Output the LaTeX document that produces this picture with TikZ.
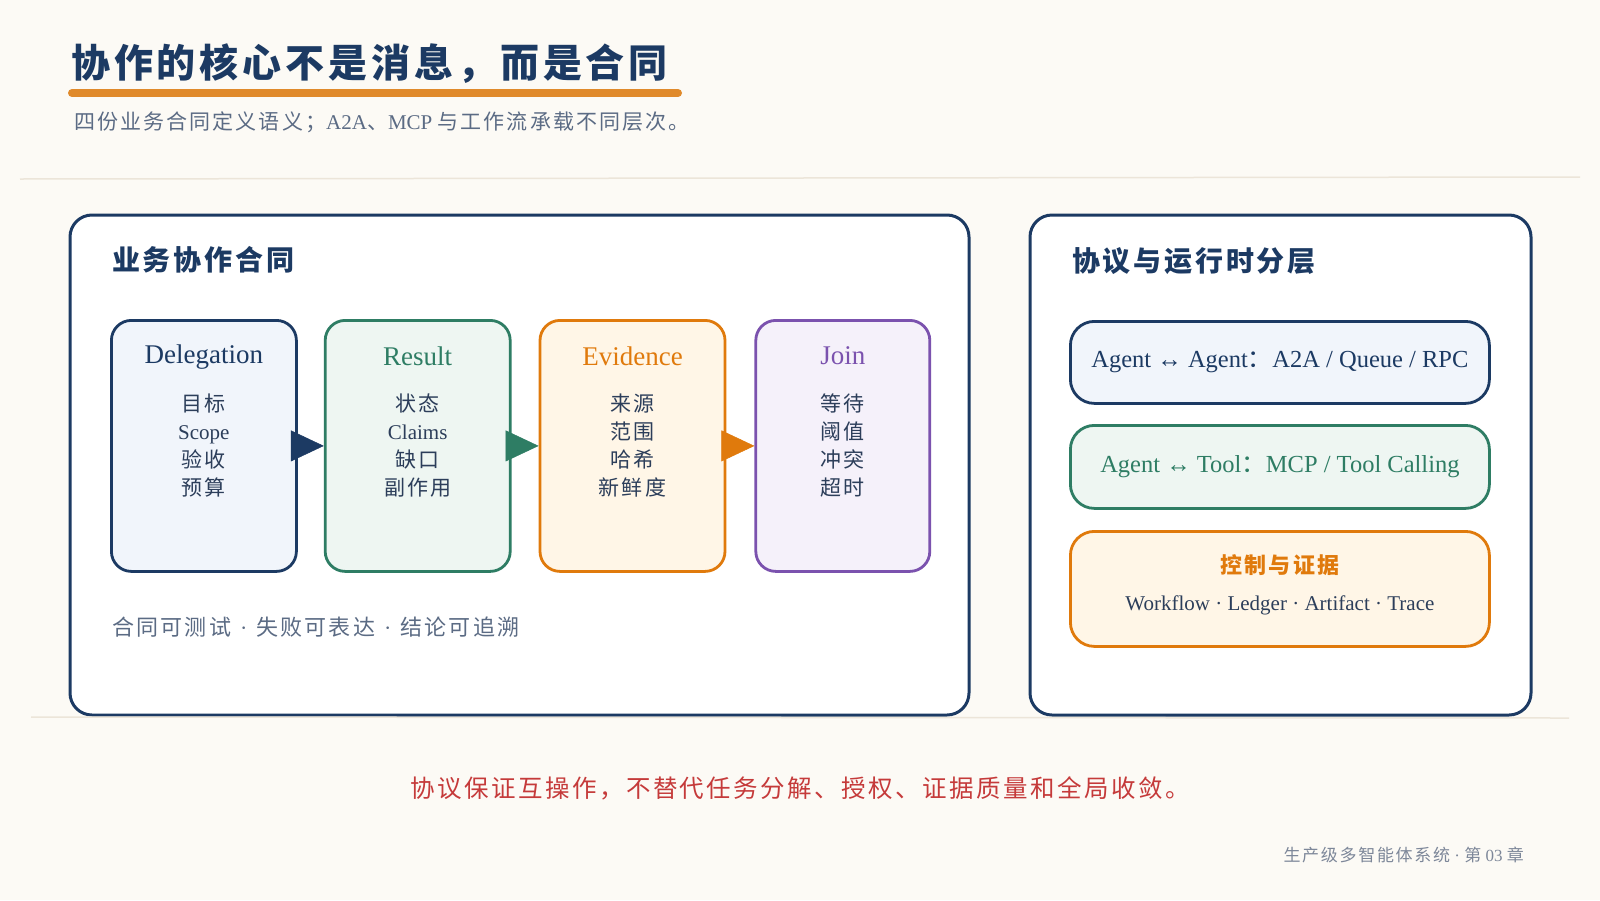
\documentclass[tikz,border=0pt]{standalone}
\usepackage{fontspec}
\setmainfont{Liberation Serif}
\newfontfamily\cjk{Noto Sans CJK SC}[LetterSpace=10]
\usepackage{xcolor}
\usetikzlibrary{positioning,calc,arrows.meta}

\definecolor{paper}{HTML}{FCFAF5}
\definecolor{navy}{HTML}{1C3A63}
\definecolor{navyfill}{HTML}{F1F5FB}
\definecolor{greenline}{HTML}{2E7D64}
\definecolor{greenfill}{HTML}{EEF6F2}
\definecolor{orangeline}{HTML}{E07A0C}
\definecolor{orangefill}{HTML}{FFF6E7}
\definecolor{purpleline}{HTML}{7B52AE}
\definecolor{purplefill}{HTML}{F5F1FA}
\definecolor{ink}{HTML}{2C3E5A}
\definecolor{mutedblue}{HTML}{5B6B84}
\definecolor{underline}{HTML}{E08A2B}
\definecolor{rule}{HTML}{ECE5D9}
\definecolor{alertred}{HTML}{C53A3A}
\definecolor{footgray}{HTML}{7D8799}

\newcommand{\zh}[1]{{\cjk #1}}

\begin{document}
\begin{tikzpicture}[x=1pt,y=-1pt,
    every node/.style={inner sep=0pt},
    panel/.style={draw=navy,line width=3pt,rounded corners=22pt,fill=white},
    card/.style={draw,line width=2.8pt,rounded corners=20pt,minimum width=185pt,minimum height=251pt},
    layer/.style={draw,line width=2.8pt,rounded corners=24pt,minimum width=419pt,anchor=north west},
    cardtitle/.style={font=\fontsize{27}{30}\selectfont},
    cardlist/.style={align=center,text=ink,font=\fontsize{21}{28}\selectfont},
    flow/.style={-{Triangle[length=33pt,width=31pt]},line width=0.5pt}]

\useasboundingbox (0,0) rectangle (1600,900);
\fill[paper] (0,0) rectangle (1600,900);

% header
\node[anchor=west,text=navy,font=\fontsize{39}{44}\selectfont] (title) at (71,64) {\cjk\bfseries 协作的核心不是消息，而是合同};
\draw[underline,line width=8pt,line cap=round] (72,93) -- (678,93);
\node[anchor=west,text=mutedblue,font=\fontsize{21}{25}\selectfont] (subtitle) at (74,122) {\zh{四份业务合同定义语义；}A2A\zh{、}MCP \zh{与工作流承载不同层次。}};
\draw[rule,line width=1.5pt] (20,179) -- (1580,177);

% panels
\draw[panel] (70,215) rectangle (969,715);
\draw[panel] (1030,215) rectangle (1531,715);

% business contracts
\node[anchor=west,text=navy,font=\fontsize{28}{30}\selectfont] (lefthead) at (112,260) {\cjk\bfseries 业务协作合同};

\node[card,draw=navy,fill=navyfill,anchor=north west] (dlg) at (110,319) {};
\node[card,draw=greenline,fill=greenfill,right=26pt of dlg] (res) {};
\node[card,draw=orangeline,fill=orangefill,right=27pt of res] (evd) {};
\node[card,draw=purpleline,fill=purplefill,minimum width=174pt,right=28pt of evd] (join) {};

\node[cardtitle,text=navy] (dlgtitle) at ($(dlg.north)+(0,38)$) {Delegation};
\node[cardtitle,text=greenline] (restitle) at ($(res.north)+(0,37)$) {Result};
\node[cardtitle,text=orangeline] (evdtitle) at ($(evd.north)+(0,37)$) {Evidence};
\node[cardtitle,text=purpleline] (jointitle) at ($(join.north)+(0,37)$) {Join};

\node[cardlist] (dlglist) at (dlg.center) {\zh{目标}\\Scope\\\zh{验收}\\\zh{预算}};
\node[cardlist] (reslist) at (res.center) {\zh{状态}\\Claims\\\zh{缺口}\\\zh{副作用}};
\node[cardlist] (evdlist) at (evd.center) {\zh{来源}\\\zh{范围}\\\zh{哈希}\\\zh{新鲜度}};
\node[cardlist] (joinlist) at (join.center) {\zh{等待}\\\zh{阈值}\\\zh{冲突}\\\zh{超时}};

\draw[flow,navy] (dlg) -- (res);
\draw[flow,greenline] (res) -- (evd);
\draw[flow,orangeline] (evd) -- (join);

\node[anchor=west,text=mutedblue,font=\fontsize{22}{26}\selectfont] (leftfoot) at (112,627) {\zh{合同可测试}\hspace{9pt}·\hspace{9pt}\zh{失败可表达}\hspace{9pt}·\hspace{9pt}\zh{结论可追溯}};

% protocol layers
\node[anchor=west,text=navy,font=\fontsize{28}{30}\selectfont] (righthead) at (1072,261) {\cjk\bfseries 协议与运行时分层};

\node[layer,draw=navy,fill=navyfill,minimum height=82pt,text=navy,font=\fontsize{24.5}{28}\selectfont] (a2a) at (1069,320) {Agent ↔ Agent\zh{：}A2A / Queue / RPC};
\node[layer,draw=greenline,fill=greenfill,minimum height=83pt,text=greenline,font=\fontsize{24.5}{28}\selectfont] (mcp) at (1069,424) {Agent ↔ Tool\zh{：}MCP / Tool Calling};
\node[layer,draw=orangeline,fill=orangefill,minimum height=115pt] (ctl) at (1069,530) {};
\node[text=orangeline,font=\fontsize{22}{26}\selectfont] (ctltitle) at ($(ctl.north)+(0,35)$) {\cjk\bfseries 控制与证据};
\node[text=ink,font=\fontsize{21}{24}\selectfont] (ctltrace) at ($(ctl.north)+(0,75)$) {Workflow · Ledger · Artifact · Trace};

% footer
\draw[rule,line width=1.5pt] (31,717) -- (1569,718);
\node[text=alertred,font=\fontsize{24.5}{28}\selectfont] (takeaway) at (800,788) {\cjk 协议保证互操作，不替代任务分解、授权、证据质量和全局收敛。};
\node[anchor=east,text=footgray,font=\fontsize{17}{20}\selectfont] (chapter) at (1524,855) {\zh{生产级多智能体系统} · \zh{第} 03 \zh{章}};
\end{tikzpicture}
\end{document}
